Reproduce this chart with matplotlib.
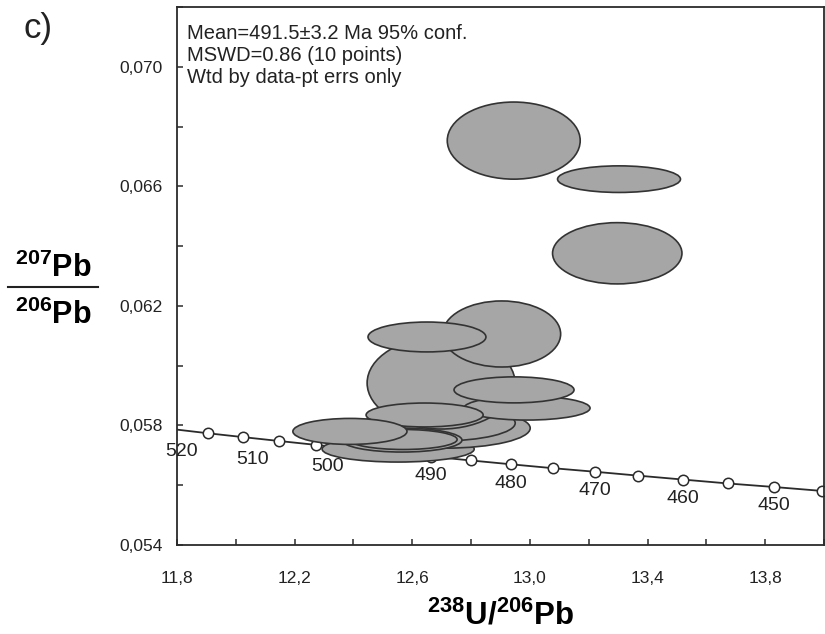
import matplotlib
matplotlib.use("Agg")
import matplotlib.pyplot as plt
from matplotlib.patches import Ellipse
from matplotlib.lines import Line2D
from matplotlib.ticker import FixedLocator, FuncFormatter

plt.rcParams['font.family'] = ['Liberation Sans', 'DejaVu Sans']
plt.rcParams['mathtext.fontset'] = 'custom'
plt.rcParams['mathtext.rm'] = 'Liberation Sans'
plt.rcParams['mathtext.bf'] = 'Liberation Sans:bold'

# ---- concordia (Tera-Wasserburg), markers every 5 Ma ----
conc_age = [445, 450, 455, 460, 465, 470, 475, 480, 485, 490, 495, 500, 505, 510, 515, 520]
conc_x = [13.992, 13.831, 13.672, 13.520, 13.369, 13.222, 13.078, 12.936,
          12.798, 12.662, 12.530, 12.399, 12.272, 12.147, 12.024, 11.904]
conc_y = [0.05581, 0.05594, 0.05606, 0.05619, 0.05632, 0.05645, 0.05657, 0.05670,
          0.05683, 0.05696, 0.05709, 0.05722, 0.05735, 0.05748, 0.05761, 0.05774]
edge_x = [11.8, 14.0]
edge_y = [0.05786, 0.05581]
label_age = [450, 460, 470, 480, 490, 500, 510, 520]
label_left = [500, 510, 520]   # these sit below-left of their marker

# ---- error ellipses (drawing order: bottom -> top) ----
ell_x = [12.552, 12.712, 12.695, 12.565, 12.569, 12.698, 12.990, 12.946,
         12.904, 12.650, 12.642, 12.388, 12.945, 13.303, 13.297]
ell_y = [0.05721, 0.05791, 0.05808, 0.05751, 0.05753, 0.05942, 0.05858, 0.05919,
         0.06106, 0.06096, 0.05835, 0.05780, 0.06753, 0.06624, 0.06376]
ell_w = [0.517, 0.578, 0.510, 0.408, 0.367, 0.503, 0.429, 0.408,
         0.401, 0.401, 0.398, 0.388, 0.452, 0.418, 0.440]
ell_h = [0.00087, 0.00134, 0.00120, 0.00080, 0.00067, 0.00308, 0.00080, 0.00087,
         0.00221, 0.00100, 0.00080, 0.00087, 0.00258, 0.00089, 0.00205]

xticks = [11.8, 12.2, 12.6, 13.0, 13.4, 13.8]
xminor = [12.0, 12.4, 12.8, 13.2, 13.6, 14.0]
yticks = [0.054, 0.058, 0.062, 0.066, 0.070]
yminor = [0.056, 0.060, 0.064, 0.068, 0.072]

annot = "Mean=491.5\u00b13.2 Ma 95% conf.\nMSWD=0.86 (10 points)\nWtd by data-pt errs only"

dark = '#2b2b2b'
fig = plt.figure(figsize=(8.25, 6.34), dpi=100)
ax = fig.add_axes([177 / 825, 89 / 634, 647 / 825, 538 / 634])
ax.set_xlim(11.8, 14.0)
ax.set_ylim(0.054, 0.072)

# concordia line + age markers
ax.plot([edge_x[0]] + conc_x[::-1] + [edge_x[1]],
        [edge_y[0]] + conc_y[::-1] + [edge_y[1]],
        color=dark, lw=1.3, zorder=1)
ax.plot(conc_x, conc_y, ls='none', marker='o', ms=7.5, mfc='white',
        mec=dark, mew=1.1, zorder=2)
for a in label_age:
    i = conc_age.index(a)
    if a in label_left:
        ax.annotate(str(a), (conc_x[i], conc_y[i]), xytext=(-7, -13),
                    textcoords='offset points', ha='right', va='center',
                    fontsize=14, color='#222222', zorder=6)
    else:
        ax.annotate(str(a), (conc_x[i], conc_y[i]), xytext=(0, -13.5),
                    textcoords='offset points', ha='center', va='center',
                    fontsize=14, color='#222222', zorder=6)

for k in range(len(ell_x)):
    ax.add_patch(Ellipse((ell_x[k], ell_y[k]), ell_w[k], ell_h[k],
                         facecolor='#a6a6a6', edgecolor='#333333', lw=1.2,
                         zorder=3 + k * 0.01))

ax.text(0.016, 0.969, annot, transform=ax.transAxes, ha='left', va='top',
        fontsize=14.5, linespacing=1.22, color='#222222')

# axes styling
for s in ax.spines.values():
    s.set_color(dark)
    s.set_linewidth(1.3)
ax.xaxis.set_major_locator(FixedLocator(xticks))
ax.xaxis.set_minor_locator(FixedLocator(xminor))
ax.yaxis.set_major_locator(FixedLocator(yticks))
ax.yaxis.set_minor_locator(FixedLocator(yminor))
ax.xaxis.set_major_formatter(FuncFormatter(lambda v, p: f"{v:.1f}".replace('.', ',')))
ax.yaxis.set_major_formatter(FuncFormatter(lambda v, p: f"{v:.3f}".replace('.', ',')))
ax.tick_params(which='both', direction='in', length=4, width=1.1, color=dark)
ax.tick_params(axis='x', which='major', pad=19, labelsize=12.5, labelcolor='#222222')
ax.tick_params(axis='y', which='major', pad=10, labelsize=12.5, labelcolor='#222222')

ax.set_xlabel(r'$\mathbf{^{238}U/^{206}Pb}$', fontsize=22.5, labelpad=10)

# y label as a stacked ratio
fig.text(0.064, 0.576, r'$\mathbf{^{207}Pb}$', fontsize=22, ha='center', va='center')
fig.text(0.064, 0.503, r'$\mathbf{^{206}Pb}$', fontsize=22, ha='center', va='center')
fig.add_artist(Line2D([0.010, 0.119], [0.547, 0.547], transform=fig.transFigure,
                      color='#222222', lw=1.5))

fig.text(0.028, 0.955, 'c)', fontsize=25, ha='left', va='center', color='#222222')

fig.savefig('out.png', dpi=100)
